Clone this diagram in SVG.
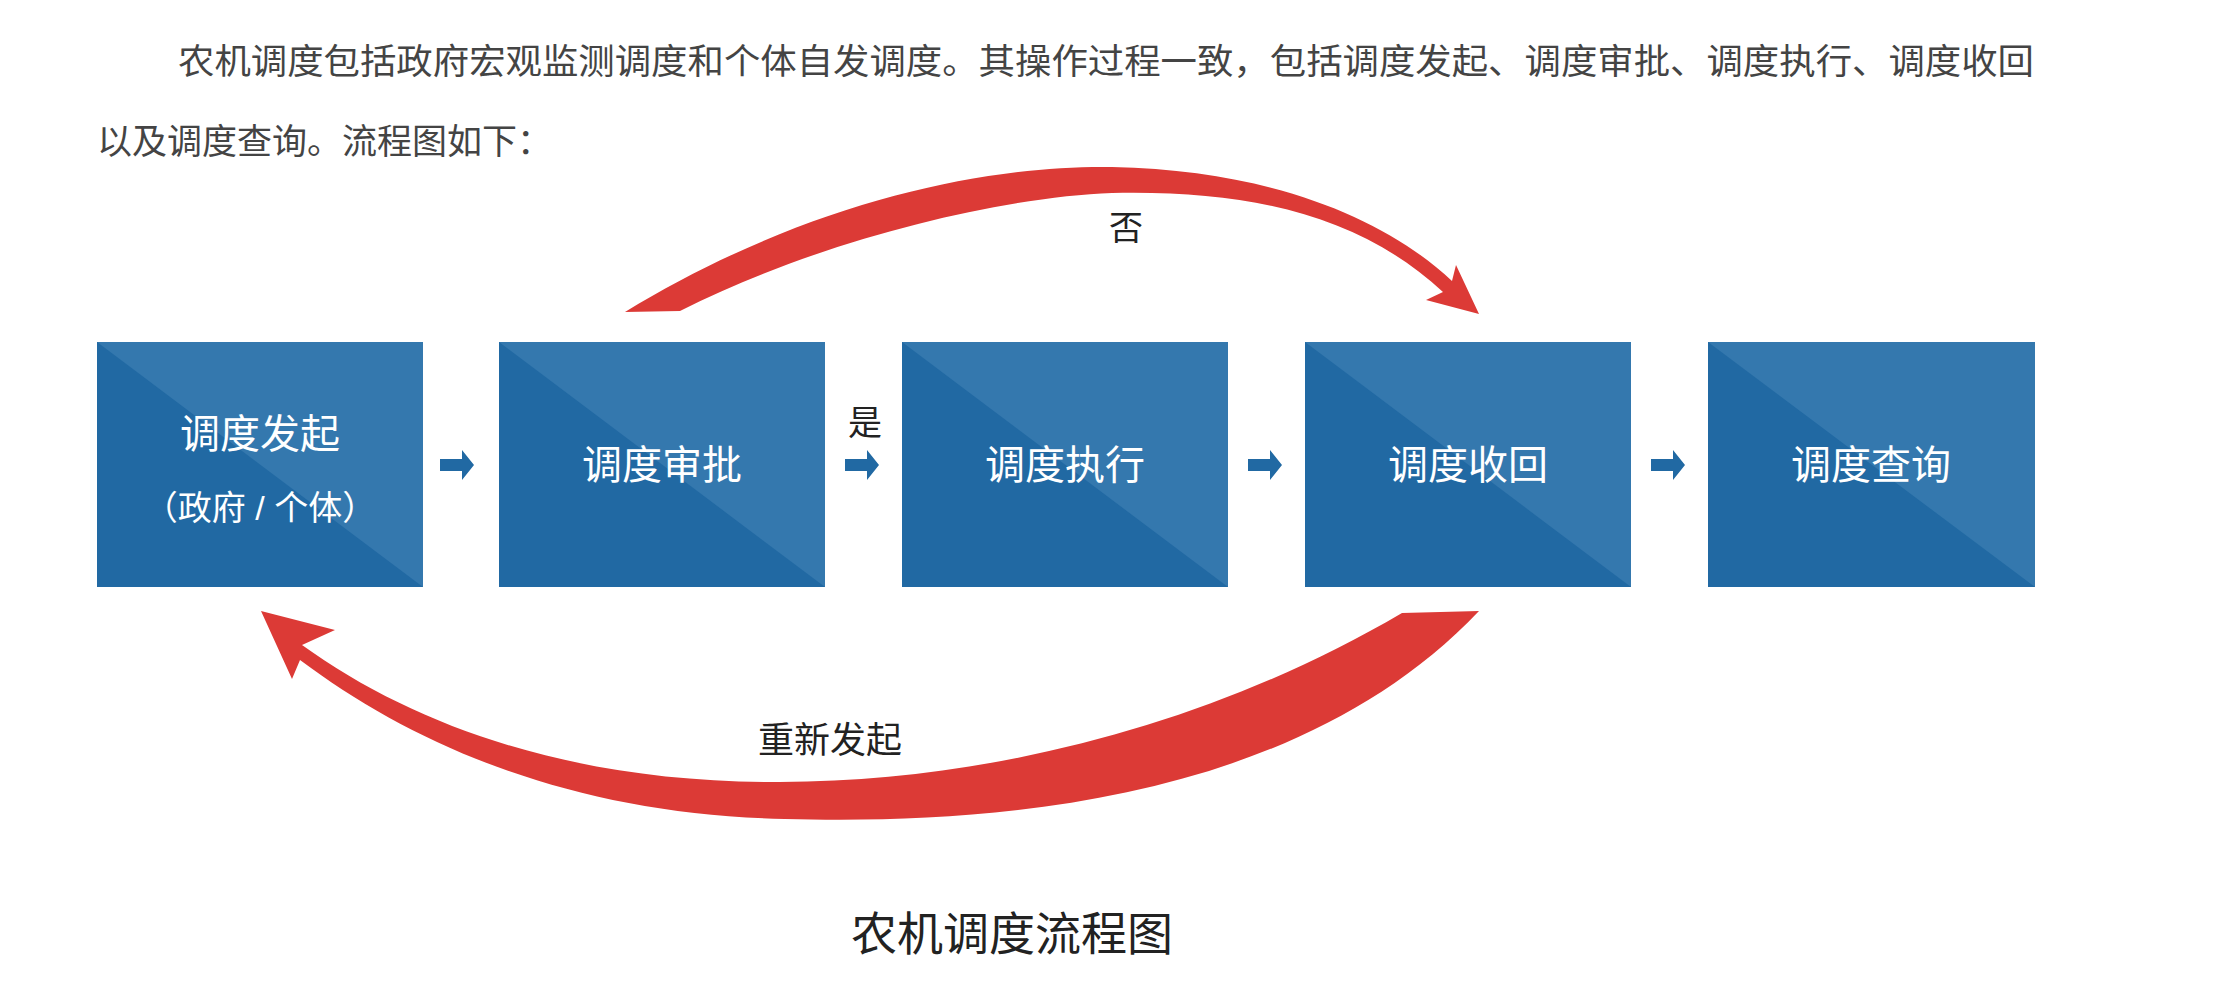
<svg xmlns="http://www.w3.org/2000/svg" width="2224" height="982" viewBox="0 0 2224 982">
<style>
.t{font-family:"Liberation Sans","Noto Sans CJK SC",sans-serif;}
.hd{font-size:35px;fill:#444;}
.bx{fill:#2169a3;}
.hl{fill:#3478ae;}
.bt{font-size:40px;fill:#fff;text-anchor:middle;}
.lb{font-size:34px;fill:#222;text-anchor:middle;}
.sa{fill:#2169a3;}
.red{fill:#dc3a36;}
</style>
<rect width="2224" height="982" fill="#fff"/>
<text class="t hd" x="178" y="74" textLength="1856" lengthAdjust="spacingAndGlyphs">农机调度包括政府宏观监测调度和个体自发调度。其操作过程一致，包括调度发起、调度审批、调度执行、调度收回</text>
<text class="t hd" x="97" y="154">以及调度查询。流程图如下：</text>
<g id="n1"><rect class="bx" x="97" y="342" width="326" height="245"/><polygon class="hl" points="97,342 423,342 423,587"/><text class="t bt" x="260" y="448">调度发起</text><text class="t bt" x="260" y="520" style="font-size:34px">（政府 / 个体）</text></g>
<g id="n2"><rect class="bx" x="499" y="342" width="326" height="245"/><polygon class="hl" points="499,342 825,342 825,587"/><text class="t bt" x="662" y="479">调度审批</text></g>
<g id="n3"><rect class="bx" x="902" y="342" width="326" height="245"/><polygon class="hl" points="902,342 1228,342 1228,587"/><text class="t bt" x="1065" y="479">调度执行</text></g>
<g id="n4"><rect class="bx" x="1305" y="342" width="326" height="245"/><polygon class="hl" points="1305,342 1631,342 1631,587"/><text class="t bt" x="1468" y="479">调度收回</text></g>
<g id="n5"><rect class="bx" x="1708" y="342" width="327" height="245"/><polygon class="hl" points="1708,342 2035,342 2035,587"/><text class="t bt" x="1871" y="479">调度查询</text></g>
<g id="connectors">
<defs><polygon id="sa" class="sa" points="0,-6 22,-6 22,-15 34,0 22,15 22,6 0,6"/></defs>
<use href="#sa" x="440" y="465"/>
<use href="#sa" x="845" y="465"/>
<use href="#sa" x="1248" y="465"/>
<use href="#sa" x="1651" y="465"/>
<path class="red" d="M625,312 C800,205 980,165 1112,167 C1270,170 1385,218 1452,281 L1456,265 L1479,314 L1426,300 L1443,292 C1360,215 1250,190 1112,193 C1000,197 820,240 680,311 Z"/>
<path class="red" d="M1402,613 L1479,611 C1300,800 1000,825 785,819 C580,815 420,750 300,660 L292,679 L261,611 L335,630 L302,645 C420,730 580,783 780,782 C1000,781 1220,720 1402,613 Z"/>
<text class="t lb" x="1126" y="240">否</text>
<text class="t lb" x="865" y="435">是</text>
<text class="t lb" x="830" y="753" style="font-size:36px">重新发起</text>
</g>
<text class="t lb" x="1012" y="950" style="font-size:46px">农机调度流程图</text>
</svg>
